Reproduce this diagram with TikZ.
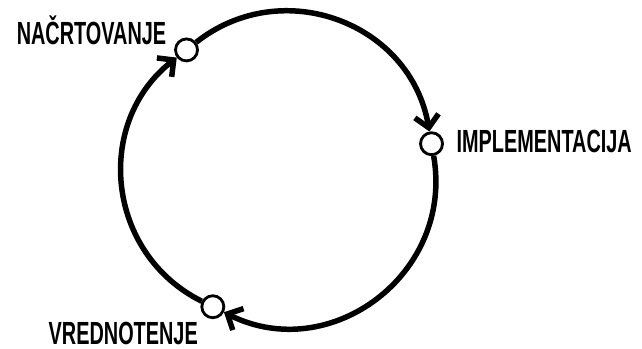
\documentclass[tikz,border=0pt]{standalone}
\usepackage{fontspec}
\setmainfont[FakeStretch=0.62]{Liberation Sans}
\usetikzlibrary{arrows.meta, positioning}
\tikzset{
  stage/.style={circle, draw=black, fill=white, line width=2pt,
                minimum size=0.55cm, inner sep=0pt},
  stagelabel/.style={inner sep=0pt, font=\fontsize{22.8}{24}\selectfont\bfseries},
  cyclearrow/.style={line width=3.9pt,
                     -{Straight Barb[length=0.3cm, width=0.6cm]}}
}
\begin{document}
\begin{tikzpicture}
  \useasboundingbox (0,0) rectangle (16.05,8.725);

  \coordinate (c) at (7.025,4.475);

  % the three stages on the cycle
  \node[stage] (plan) at ([shift={(128.2:3.82)}]c) {};
  \node[stage] (impl) at ([shift={(9.9:3.82)}]c) {};
  \node[stage] (vred) at ([shift={(243.5:3.82)}]c) {};

  \node[stagelabel, left=0.19cm of plan, anchor=base east, yshift=0.125cm] (plan_lbl) {NAČRTOVANJE};
  \node[stagelabel, right=0.31cm of impl, yshift=0.05cm] (impl_lbl) {IMPLEMENTACIJA};
  \node[stagelabel, below left=0.16cm and 0.15cm of vred] (vred_lbl) {VREDNOTENJE};

  \draw[cyclearrow] (vred) to[bend left=57.7, looseness=1.11] (plan);
  \draw[cyclearrow] (plan) to[bend left=59.2, looseness=1.13] (impl);
  \draw[cyclearrow] (impl) to[bend left=63.2, looseness=1.17] (vred);

\end{tikzpicture}
\end{document}
